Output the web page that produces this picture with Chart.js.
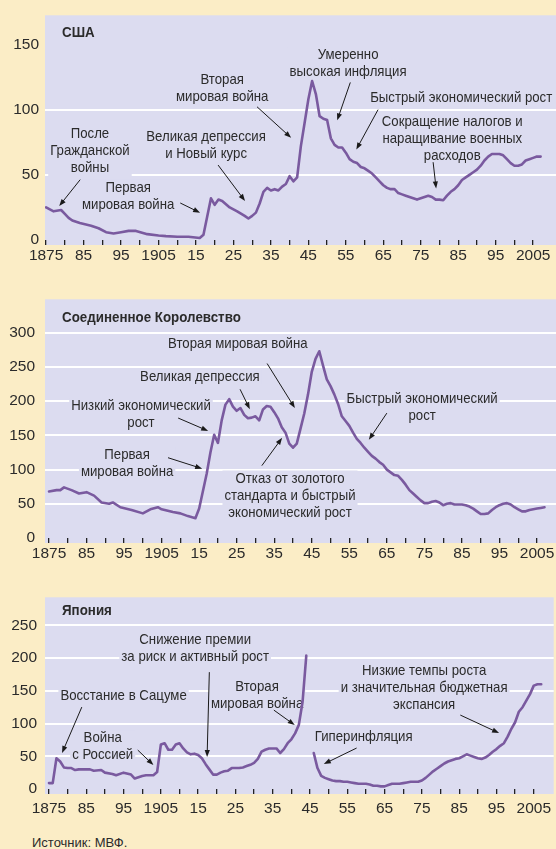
<!DOCTYPE html>
<html>
<head>
<meta charset="utf-8">
<script src="https://cdn.jsdelivr.net/npm/chart.js@4.4.1/dist/chart.umd.min.js"></script>
<style>
  body { margin: 0; width: 556px; height: 849px; background: #fbedc6; position: relative; overflow: hidden; }
  canvas { position: absolute; left: 0; }
  #source { position: absolute; left: 32px; top: 835px; font: 13px "Liberation Sans", Arial, sans-serif; color: #2b2b2b; }
</style>
</head>
<body>
<canvas id="usChart" width="556" height="270" style="top:0px"></canvas>
<canvas id="ukChart" width="556" height="288" style="top:280px"></canvas>
<canvas id="jpChart" width="556" height="239" style="top:580px"></canvas>
<div id="source">Источник: МВФ.</div>
<script>
// x axis: a tick every 5 years, a label every 10
const xTickYears = [1875, 1880, 1885, 1890, 1895, 1900, 1905, 1910, 1915, 1920, 1925, 1930, 1935, 1940,
  1945, 1950, 1955, 1960, 1965, 1970, 1975, 1980, 1985, 1990, 1995, 2000, 2005];
const xTickLabels = ['1875', '', '85', '', '95', '', '1905', '', '15', '', '25', '', '35', '',
  '45', '', '55', '', '65', '', '75', '', '85', '', '95', '', '2005'];

// США
const usYears = [1875, 1877, 1879, 1880, 1881, 1882, 1884, 1887, 1889, 1891,
  1893, 1895, 1897, 1899, 1902, 1905, 1907, 1910, 1913, 1916,
  1917, 1919, 1920, 1921, 1922, 1924, 1926, 1928, 1929, 1930,
  1931, 1932, 1933, 1934, 1935, 1936, 1937, 1938, 1939, 1940,
  1941, 1942, 1943, 1944, 1945, 1946, 1947, 1948, 1949, 1950,
  1951, 1952, 1953, 1954, 1955, 1956, 1957, 1958, 1959, 1960,
  1961, 1962, 1963, 1964, 1965, 1966, 1967, 1968, 1969, 1970,
  1971, 1972, 1973, 1974, 1975, 1976, 1977, 1978, 1979, 1980,
  1981, 1982, 1983, 1984, 1985, 1986, 1987, 1988, 1989, 1990,
  1991, 1992, 1993, 1994, 1995, 1996, 1997, 1998, 1999, 2000,
  2001, 2002, 2003, 2004, 2005, 2006, 2007];
const usDebt = [25, 22, 23, 20, 17, 15, 13, 11, 9, 6,
  5, 6, 7, 7, 4.5, 3.5, 3, 2.5, 2.5, 1.5,
  4, 32, 27, 31, 30, 25, 22, 18.5, 16.5, 18.5,
  21, 28, 37, 40, 38, 39, 38, 41, 43, 49,
  45, 48, 72, 90, 108, 122, 112, 95, 93, 92,
  78, 73, 71, 71, 67, 62, 60, 59, 56, 55,
  53, 51, 48, 45, 42, 40, 39, 39, 36, 35,
  34, 33, 32, 31, 32, 33, 34, 33, 31, 31,
  30.5, 34, 37, 39, 42, 46, 48, 50, 52, 54,
  57, 61, 64, 66, 66, 66, 65, 62, 59, 57,
  57, 58, 61, 62, 63, 64, 64];

// Соединенное Королевство
const ukYears = [1875, 1877, 1878, 1879, 1881, 1883, 1885, 1887, 1889, 1891,
  1892, 1894, 1897, 1900, 1902, 1904, 1905, 1908, 1910, 1912,
  1914, 1915, 1917, 1918, 1919, 1920, 1921, 1922, 1923, 1924,
  1925, 1926, 1927, 1928, 1929, 1930, 1931, 1932, 1933, 1934,
  1935, 1936, 1937, 1938, 1939, 1940, 1941, 1942, 1943, 1944,
  1945, 1946, 1947, 1948, 1949, 1950, 1951, 1952, 1953, 1954,
  1955, 1956, 1957, 1958, 1959, 1960, 1961, 1962, 1963, 1964,
  1965, 1966, 1967, 1968, 1969, 1970, 1971, 1972, 1973, 1974,
  1975, 1976, 1977, 1978, 1979, 1980, 1981, 1982, 1983, 1984,
  1985, 1986, 1987, 1988, 1989, 1990, 1991, 1992, 1993, 1994,
  1995, 1996, 1997, 1998, 1999, 2000, 2001, 2002, 2003, 2004,
  2005, 2006, 2007];
const ukDebt = [68, 70, 70, 74, 70, 65, 67, 62, 52, 50,
  52, 45, 41, 36, 42, 45, 42, 38, 36, 32,
  29, 43, 94, 125, 151, 139, 172, 195, 203, 192,
  186, 190, 180, 175, 176, 178, 172, 188, 193, 192,
  184, 175, 162, 154, 138, 132, 138, 160, 182, 210,
  243, 262, 273, 252, 232, 222, 210, 196, 178, 171,
  164, 154, 145, 139, 132, 126, 120, 116, 111, 107,
  100, 96, 92, 91, 85, 78, 70, 65, 60, 55,
  51, 51, 53, 54, 52, 48, 50, 51, 49, 49,
  49, 48, 46, 43, 39, 35, 35, 36, 41, 45,
  48, 50, 51, 49, 45, 42, 39, 39, 41, 42,
  43, 44, 45];

// Япония (1945 — нет данных)
const jpYears = [1875, 1876, 1877, 1878, 1879, 1880, 1881, 1882, 1883, 1886,
  1887, 1889, 1890, 1892, 1893, 1895, 1897, 1898, 1900, 1901,
  1903, 1904, 1905, 1906, 1907, 1908, 1909, 1910, 1911, 1912,
  1913, 1914, 1915, 1916, 1917, 1918, 1919, 1920, 1921, 1922,
  1923, 1924, 1925, 1926, 1927, 1928, 1929, 1930, 1931, 1932,
  1933, 1934, 1935, 1936, 1937, 1938, 1939, 1940, 1941, 1942,
  1943, 1944, 1945, 1946, 1947, 1948, 1949, 1950, 1951, 1952,
  1953, 1954, 1955, 1956, 1957, 1958, 1959, 1960, 1961, 1962,
  1963, 1964, 1965, 1966, 1967, 1968, 1969, 1970, 1971, 1972,
  1973, 1974, 1975, 1976, 1977, 1978, 1979, 1980, 1981, 1982,
  1983, 1984, 1985, 1986, 1987, 1988, 1989, 1990, 1991, 1992,
  1993, 1994, 1995, 1996, 1997, 1998, 1999, 2000, 2001, 2002,
  2003, 2004, 2005, 2006, 2007];
const jpDebt = [9, 9, 47, 42, 33, 32, 32, 29, 30, 30,
  28, 29, 25, 23, 21, 25, 22, 16, 20, 21,
  21, 26, 68, 70, 60, 60, 68, 70, 62, 56,
  53, 54, 52, 47, 38, 30, 22, 22, 25, 27,
  28, 32, 32, 32, 33, 35, 37, 40, 46, 57,
  60, 62, 62, 62, 55, 61, 70, 76, 85, 98,
  133, 204, null, 55, 32, 20, 17, 15, 13, 12,
  12, 11, 11, 10, 9, 8, 8, 8, 7, 5,
  5, 4, 4, 6, 8, 8, 8, 9, 10, 11,
  11, 11, 13, 17, 22, 27, 31, 35, 39, 42,
  44, 46, 47, 50, 53, 51, 49, 47, 46, 48,
  52, 57, 61, 66, 70, 80, 92, 102, 118, 125,
  135, 145, 158, 160, 160];

const usYTicks = [0, 50, 100, 150];
const ukYTicks = [0, 50, 100, 150, 200, 250, 300];
const jpYTicks = [0, 50, 100, 150, 200, 250];

const PURPLE = '#7a5a9f';
const LAVENDER = '#dcdcf0';
const TEXT = '#2b2b2b';
const FONT = '"Liberation Sans", Arial, sans-serif';
const SQUEEZE = 0.88;   // condensed look for notes
const LINE_H = 17;

function squeezed(ctx, t, x, y, k) {
  ctx.save();
  ctx.translate(x, y);
  ctx.scale(k, 1);
  ctx.fillText(t, 0, 0);
  ctx.restore();
}

function drawArrow(ctx, x1, y1, x2, y2) {
  const ang = Math.atan2(y2 - y1, x2 - x1);
  ctx.strokeStyle = '#1a1a1a';
  ctx.lineWidth = 1;
  ctx.beginPath();
  ctx.moveTo(x1, y1);
  ctx.lineTo(x2 - 5 * Math.cos(ang), y2 - 5 * Math.sin(ang));
  ctx.stroke();
  ctx.fillStyle = '#1a1a1a';
  ctx.beginPath();
  ctx.moveTo(x2, y2);
  ctx.lineTo(x2 - 7 * Math.cos(ang) + 2.6 * Math.sin(ang), y2 - 7 * Math.sin(ang) - 2.6 * Math.cos(ang));
  ctx.lineTo(x2 - 7 * Math.cos(ang) - 2.6 * Math.sin(ang), y2 - 7 * Math.sin(ang) + 2.6 * Math.cos(ang));
  ctx.closePath();
  ctx.fill();
}

function debtChart(id, years, values, opts) {
  // lavender panel, title and the arrowed notes
  const panel = {
    id: 'panel',
    beforeDraw(chart) {
      const { ctx, chartArea: a } = chart;
      ctx.save();
      ctx.fillStyle = LAVENDER;
      ctx.fillRect(a.left, a.top, a.right - a.left, a.bottom - a.top + 5);
      ctx.restore();
    },
    beforeDatasetsDraw(chart) {
      const { ctx, chartArea: a, scales: { x, y } } = chart;
      ctx.save();
      ctx.textBaseline = 'middle';
      ctx.fillStyle = TEXT;
      ctx.textAlign = 'left';
      ctx.font = 'bold 15px ' + FONT;
      squeezed(ctx, opts.title, a.left + 17, a.top + opts.titleDy, 0.89);

      ctx.font = '15px ' + FONT;
      ctx.textAlign = 'center';
      const placed = opts.notes.map(n => ({
        n, cx: x.getPixelForValue(n.at[0]), cy: y.getPixelForValue(n.at[1]),
        w: Math.max(...n.text.map(t => ctx.measureText(t).width)) * SQUEEZE
      }));
      // boxes first, so they break gridlines but never hide an arrow
      ctx.fillStyle = LAVENDER;
      placed.forEach(p => ctx.fillRect(p.cx - p.w / 2 - 2, p.cy - 8, p.w + 4, (p.n.text.length - 1) * LINE_H + 16));
      ctx.fillStyle = TEXT;
      placed.forEach(p => p.n.text.forEach((t, i) => squeezed(ctx, t, p.cx, p.cy + i * LINE_H, SQUEEZE)));
      placed.forEach(p => drawArrow(ctx,
        x.getPixelForValue(p.n.from[0]), y.getPixelForValue(p.n.from[1]),
        x.getPixelForValue(p.n.to[0]), y.getPixelForValue(p.n.to[1])));
      ctx.restore();
    }
  };

  return new Chart(document.getElementById(id), {
    type: 'line',
    data: {
      datasets: [{
        data: years.map((yr, i) => ({ x: yr, y: values[i] })),
        borderColor: PURPLE,
        borderWidth: 2.6,
        pointRadius: 0,
        tension: 0,
        spanGaps: false,
        borderJoinStyle: 'round',
        borderCapStyle: 'round'
      }]
    },
    options: {
      responsive: false,
      animation: false,
      layout: { padding: { top: opts.top, left: 0, right: 0, bottom: 0 } },
      plugins: { legend: { display: false }, tooltip: { enabled: false } },
      scales: {
        x: {
          type: 'linear',
          min: opts.xMin,
          max: opts.xMax,
          afterBuildTicks: s => { s.ticks = xTickYears.map(v => ({ value: v })); },
          afterFit: s => { s.height = 30; },
          ticks: {
            autoSkip: false,
            maxRotation: 0,
            padding: opts.xPad,
            color: TEXT,
            font: { family: FONT, size: 15.5 },
            callback: v => xTickLabels[xTickYears.indexOf(v)]
          },
          grid: { drawOnChartArea: false, drawTicks: true, tickLength: 5, color: '#222', lineWidth: 1.3 },
          border: { display: false }
        },
        y: {
          min: 0,
          max: opts.yMax,
          afterBuildTicks: s => { s.ticks = opts.yTicks.map(v => ({ value: v })); },
          afterFit: s => { s.width = 45; },
          ticks: { padding: opts.yPad, color: TEXT, font: { family: FONT, size: 15.5 } },
          grid: {
            drawTicks: false,
            lineWidth: 2,
            color: c => (c.tick && c.tick.value > 0 && c.tick.value <= opts.gridMax) ? '#ffffff' : 'rgba(0,0,0,0)'
          },
          border: { display: false }
        }
      }
    },
    plugins: [panel]
  });
}

debtChart('usChart', usYears, usDebt, {
  title: 'США', titleDy: 18, top: 9, xMin: 1874.7, xMax: 2011.1, yMax: 172.4,
  yTicks: usYTicks, gridMax: 100, yPad: 6, xPad: 1,
  notes: [
    { text: ['После', 'Гражданской', 'войны'], at: [1886.7, 81.3], from: [1884.1, 46.3], to: [1878.5, 26.1] },
    { text: ['Первая', 'мировая война'], at: [1896.9, 40.3], from: [1910.8, 28.4], to: [1916.1, 20.9] },
    { text: ['Великая депрессия', 'и Новый курс'], at: [1917.7, 79.1], from: [1920.9, 57.5], to: [1928.1, 29.9] },
    { text: ['Вторая', 'мировая война'], at: [1922.0, 123.1], from: [1931.3, 102.2], to: [1940.4, 78.4] },
    { text: ['Умеренно', 'высокая инфляция'], at: [1955.6, 141.8], from: [1956.2, 120.9], to: [1952.7, 91.8] },
    { text: ['Быстрый экономический рост'], at: [1985.8, 109.0], from: [1963.6, 100], to: [1957.8, 69.4] },
    { text: ['Сокращение налогов и', 'наращивание военных', 'расходов'], at: [1983.4, 91.0], from: [1978.3, 59.7], to: [1979.1, 39.6] }
  ]
});

debtChart('ukChart', ukYears, ukDebt, {
  title: 'Соединенное Королевство', titleDy: 19, top: 17, xMin: 1873.93, xMax: 2010.06, yMax: 349,
  yTicks: ukYTicks, gridMax: 300, yPad: 10, xPad: 1,
  notes: [
    { text: ['Вторая мировая война'], at: [1925.3, 284.1], from: [1933.1, 255.1], to: [1940.5, 189.9] },
    { text: ['Великая депрессия'], at: [1915.2, 236.2], from: [1925.9, 217.4], to: [1928.5, 188.4] },
    { text: ['Низкий экономический', 'рост'], at: [1899.5, 192.8], from: [1909.4, 175.4], to: [1917.4, 156.5] },
    { text: ['Первая', 'мировая война'], at: [1895.8, 121.7], from: [1906.7, 117.4], to: [1915.8, 101.4] },
    { text: ['Отказ от золотого', 'стандарта и быстрый', 'экономический рост'], at: [1939.2, 87.0], from: [1931.7, 105.8], to: [1937.1, 146.4] },
    { text: ['Быстрый экономический', 'рост'], at: [1974.4, 202.9], from: [1965.0, 182.6], to: [1960.2, 143.5] }
  ]
});

debtChart('jpChart', jpYears, jpDebt, {
  title: 'Япония', titleDy: 14, top: 17, xMin: 1873.93, xMax: 2010.35, yMax: 293,
  yTicks: jpYTicks, gridMax: 250, yPad: 8, xPad: 5,
  notes: [
    { text: ['Снижение премии', 'за риск и активный рост'], at: [1914.2, 227.5], from: [1918.0, 178.6], to: [1917.4, 48.9] },
    { text: ['Вторая', 'мировая война'], at: [1930.8, 155.7], from: [1935.3, 120.6], to: [1940.9, 97.7] },
    { text: ['Восстание в Сацуме'], at: [1895.0, 142.0], from: [1883.8, 125.2], to: [1878.5, 55.0] },
    { text: ['Война', 'с Россией'], at: [1889.4, 77.9], from: [1898.8, 59.5], to: [1903.0, 36.6] },
    { text: ['Низкие темпы роста', 'и значительная бюджетная', 'экспансия'], at: [1975.6, 180.2], from: [1985.3, 113.0], to: [1995.7, 85.5] },
    { text: ['Гиперинфляция'], at: [1959.4, 79.4], from: [1957.5, 62.6], to: [1948.7, 38.2] }
  ]
});
</script>
</body>
</html>
